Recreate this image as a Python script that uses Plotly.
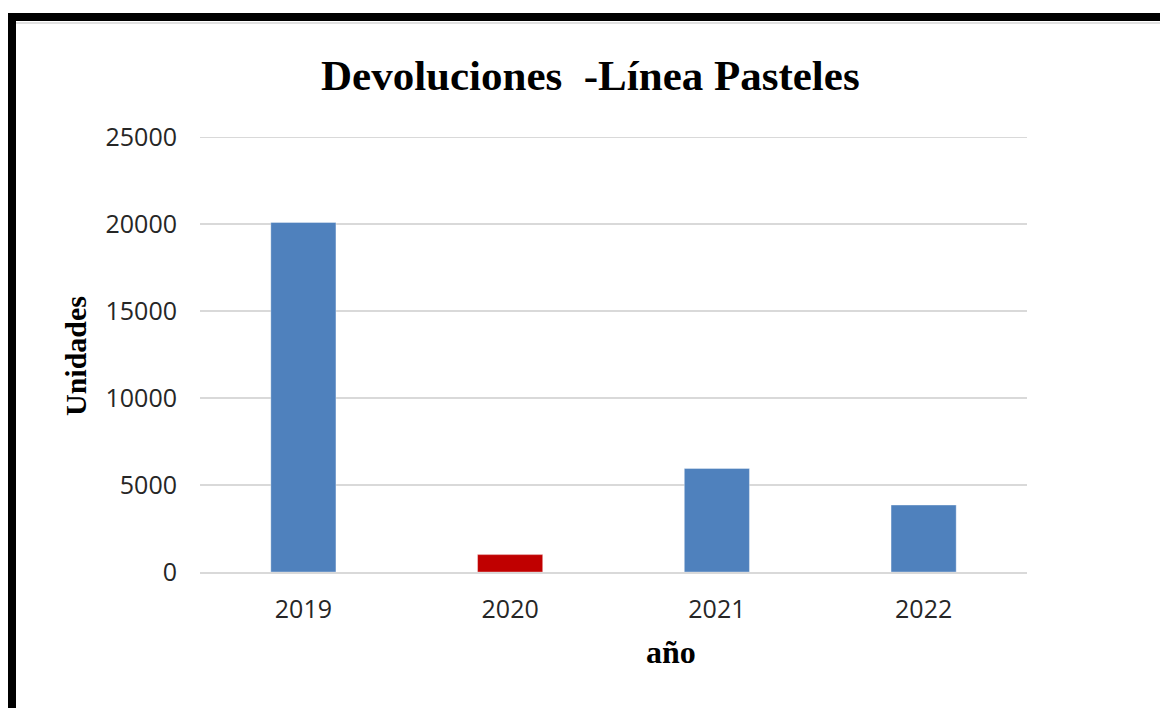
import plotly.graph_objects as go

years = ["2019", "2020", "2021", "2022"]
returns_units = [20100, 1000, 5950, 3850]
bar_colors = ["#4F81BD", "#C00000", "#4F81BD", "#4F81BD"]
y_ticks = [0, 5000, 10000, 15000, 20000, 25000]
y_tick_text = [str(v) for v in y_ticks]

W, H = 1160, 708
L, R, T, B = 200, 133, 137, 136
pw, ph = W - L - R, H - T - B

def px(x):
    return (x - L) / pw

def py(y):
    return 1 - (y - T) / ph

fig = go.Figure(go.Bar(
    x=years, y=returns_units,
    marker=dict(color=bar_colors, line=dict(color="rgba(255,255,255,0.35)", width=1)),
    width=0.315,
))

fig.update_layout(
    width=W, height=H,
    margin=dict(l=L, r=R, t=T, b=B),
    paper_bgcolor="white", plot_bgcolor="white",
    showlegend=False,
    xaxis=dict(
        showgrid=False, showline=True, linecolor="#D9D9D9", linewidth=2,
        tickfont=dict(family="Open Sans", size=25, color="#262626"),
        ticks="", ticklabelstandoff=14,
    ),
    yaxis=dict(
        range=[0, 25015], tickvals=y_ticks, ticktext=y_tick_text,
        showgrid=True, gridcolor="#D9D9D9", gridwidth=1.5,
        zeroline=False, showline=False,
        tickfont=dict(family="Open Sans", size=25, color="#262626"),
        ticks="", ticklabelstandoff=22,
    ),
    shapes=[
        dict(type="line", xref="paper", yref="y",
             x0=0, x1=1, y0=y_ticks[-1], y1=y_ticks[-1],
             line=dict(color="#D9D9D9", width=1.5), layer="below"),
        dict(type="rect", xref="paper", yref="paper",
             x0=px(12), y0=py(17), x1=px(1300), y1=py(900),
             line=dict(color="black", width=8), fillcolor="rgba(0,0,0,0)", layer="above"),
        dict(type="line", xref="paper", yref="paper",
             x0=px(16), y0=py(23), x1=px(1160), y1=py(23),
             line=dict(color="#E0E0E0", width=2)),
    ],
    annotations=[
        dict(text="<b>Devoluciones \u00a0-Línea Pasteles</b>", xref="paper", yref="paper",
             x=px(590), y=py(75), xanchor="center", yanchor="middle", showarrow=False,
             font=dict(family="Liberation Serif", size=43, color="black")),
        dict(text="<b>Unidades</b>", xref="paper", yref="paper",
             x=px(75), y=py(356), xanchor="center", yanchor="middle", showarrow=False,
             textangle=-90,
             font=dict(family="Liberation Serif", size=30, color="black")),
        dict(text="<b>año</b>", xref="paper", yref="paper",
             x=px(671), y=py(652), xanchor="center", yanchor="middle", showarrow=False,
             font=dict(family="Liberation Serif", size=32, color="black")),
    ],
)

fig.write_html("out.html")
